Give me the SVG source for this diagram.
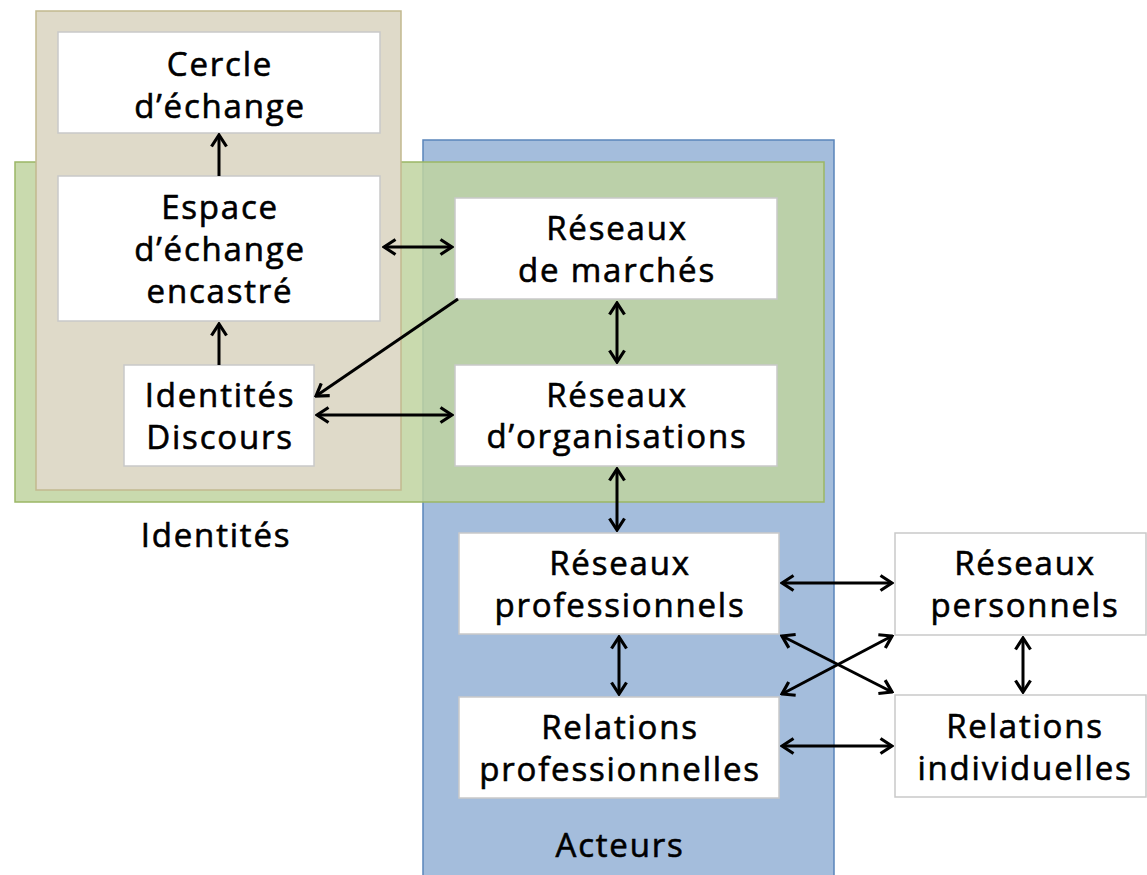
<svg xmlns="http://www.w3.org/2000/svg" width="1147" height="875" viewBox="0 0 1147 875">
<style>
.box{fill:#fff;stroke:#c9c9c9;stroke-width:1.5}
.t{font-family:"Open Sans","Liberation Sans",sans-serif;font-size:33px;letter-spacing:1.8px;fill:#000;stroke:#000;stroke-width:0.6;text-anchor:middle}
.c{fill:none;stroke:#000;stroke-width:3}
</style>
<defs>
<marker id="ah" viewBox="0 0 15 18" refX="13" refY="9" markerWidth="15" markerHeight="18" markerUnits="userSpaceOnUse" orient="auto-start-reverse">
<path d="M1.5,1.5 L13,9 L1.5,16.5" fill="none" stroke="#000" stroke-width="3.2"/>
</marker>
</defs>
<g id="acteurs">
<rect x="423" y="140" width="411" height="745" fill="#a4bddc" stroke="#5a85bb" stroke-width="1.5"/>
<text class="t" x="620" y="857">Acteurs</text>
</g>
<g id="identites-zone">
<rect x="15" y="162" width="809" height="340" fill="#c0d3a0" fill-opacity="0.85" stroke="#9bb765" stroke-width="1.5"/>
<text class="t" x="216" y="547">Identités</text>
</g>
<g id="beige-zone">
<rect x="36" y="11" width="365" height="479" fill="#dfdac9" stroke="#c2b98f" stroke-width="1.5"/>
</g>
<g id="cercle">
<rect class="box" x="58" y="32" width="322" height="101"/>
<text class="t" x="220" y="76">Cercle</text>
<text class="t" x="220" y="118">d’échange</text>
</g>
<g id="espace">
<rect class="box" x="58" y="176" width="322" height="145"/>
<text class="t" x="220" y="219">Espace</text>
<text class="t" x="220" y="261">d’échange</text>
<text class="t" x="220" y="303">encastré</text>
</g>
<g id="identites-discours">
<rect class="box" x="124" y="365" width="190" height="101"/>
<text class="t" x="220" y="407">Identités</text>
<text class="t" x="220" y="449">Discours</text>
</g>
<g id="reseaux-marches">
<rect class="box" x="455" y="198" width="322" height="101"/>
<text class="t" x="617" y="240">Réseaux</text>
<text class="t" x="617" y="282">de marchés</text>
</g>
<g id="reseaux-organisations">
<rect class="box" x="455" y="365" width="322" height="101"/>
<text class="t" x="617" y="407">Réseaux</text>
<text class="t" x="617" y="448">d’organisations</text>
</g>
<g id="reseaux-professionnels">
<rect class="box" x="459" y="533" width="320" height="101"/>
<text class="t" x="620" y="575">Réseaux</text>
<text class="t" x="620" y="617">professionnels</text>
</g>
<g id="relations-professionnelles">
<rect class="box" x="459" y="697" width="320" height="101"/>
<text class="t" x="620" y="739">Relations</text>
<text class="t" x="620" y="781">professionnelles</text>
</g>
<g id="reseaux-personnels">
<rect class="box" x="895" y="533" width="251" height="102"/>
<text class="t" x="1025" y="575">Réseaux</text>
<text class="t" x="1025" y="617">personnels</text>
</g>
<g id="relations-individuelles">
<rect class="box" x="895" y="695" width="251" height="102"/>
<text class="t" x="1025" y="738">Relations</text>
<text class="t" x="1025" y="780">individuelles</text>
</g>
<g id="connectors">
<path class="c" d="M219,176 L219,135" marker-end="url(#ah)"/>
<path class="c" d="M219,365 L219,324" marker-end="url(#ah)"/>
<path class="c" d="M384,247 L452,247" marker-start="url(#ah)" marker-end="url(#ah)"/>
<path class="c" d="M458,299 L316,396" marker-end="url(#ah)"/>
<path class="c" d="M317,415 L452,415" marker-start="url(#ah)" marker-end="url(#ah)"/>
<path class="c" d="M617,303 L617,362" marker-start="url(#ah)" marker-end="url(#ah)"/>
<path class="c" d="M617,469 L617,530" marker-start="url(#ah)" marker-end="url(#ah)"/>
<path class="c" d="M782,583 L892,583" marker-start="url(#ah)" marker-end="url(#ah)"/>
<path class="c" d="M619,637 L619,694" marker-start="url(#ah)" marker-end="url(#ah)"/>
<path class="c" d="M1023,638 L1023,692" marker-start="url(#ah)" marker-end="url(#ah)"/>
<path class="c" d="M782,746 L892,746" marker-start="url(#ah)" marker-end="url(#ah)"/>
<path class="c" d="M782,636 L892,692" marker-start="url(#ah)" marker-end="url(#ah)"/>
<path class="c" d="M892,636 L782,694" marker-start="url(#ah)" marker-end="url(#ah)"/>
</g>
</svg>
